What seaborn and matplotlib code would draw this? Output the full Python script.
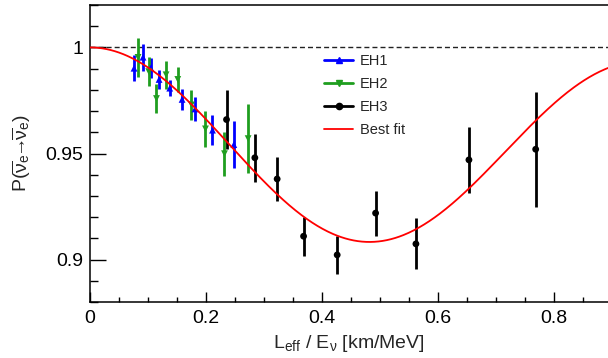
import numpy as np
import pandas as pd
import matplotlib
matplotlib.use("Agg")
import matplotlib.pyplot as plt
import seaborn as sns
from matplotlib.lines import Line2D
from matplotlib.ticker import MultipleLocator, FuncFormatter

# ---------------- data ----------------
eh1_x = [0.0760, 0.0915, 0.1048, 0.1192, 0.1376, 0.1589, 0.1813, 0.2114, 0.2482]
eh1_y = [0.9902, 0.9954, 0.9903, 0.9849, 0.9808, 0.9755, 0.9710, 0.9610, 0.9542]
eh1_err = [0.0061, 0.0063, 0.0048, 0.0046, 0.0038, 0.0051, 0.0056, 0.0070, 0.0112]

eh2_x = [0.0829, 0.1014, 0.1147, 0.1313, 0.1515, 0.1751, 0.1993, 0.2321, 0.2729]
eh2_y = [0.9953, 0.9886, 0.9759, 0.9871, 0.9849, 0.9729, 0.9616, 0.9499, 0.9570]
eh2_err = [0.0092, 0.0069, 0.0070, 0.0065, 0.0059, 0.0072, 0.0084, 0.0103, 0.0163]

eh3_x = [0.2356, 0.2845, 0.3230, 0.3686, 0.4266, 0.4929, 0.5625, 0.6540, 0.7692]
eh3_y = [0.9660, 0.9480, 0.9380, 0.9110, 0.9022, 0.9219, 0.9074, 0.9470, 0.9520]
eh3_err = [0.0138, 0.0113, 0.0105, 0.0093, 0.0090, 0.0106, 0.0120, 0.0157, 0.0270]

halls = ["EH1", "EH2", "EH3"]
legend_labels = ["EH1", "EH2", "EH3", "Best fit"]

# best-fit oscillation parameters
sin2_2theta13 = 0.090
dm2_ee = 2.59e-3      # eV^2
sin2_2theta12 = 0.846
dm2_21 = 7.53e-5      # eV^2

x_max = 0.894
y_min, y_max = 0.88, 1.02

# ---------------- style ----------------
sns.set_style("ticks")
plt.rcParams["font.family"] = ["Liberation Sans", "DejaVu Sans"]
plt.rcParams["mathtext.fontset"] = "custom"
plt.rcParams["mathtext.rm"] = "Liberation Sans"
plt.rcParams["mathtext.it"] = "Liberation Sans"
plt.rcParams["mathtext.bf"] = "Liberation Sans:bold"

colors = {"EH1": "#0000ff", "EH2": "#1f9e1f", "EH3": "#000000"}
markers = {"EH1": "^", "EH2": "v", "EH3": "o"}

fig = plt.figure(figsize=(6.08, 3.58), dpi=100)
ax = fig.add_axes([90 / 608, 56 / 358, 518 / 608, 297 / 358])

# best-fit curve
theta13 = 0.5 * np.arcsin(np.sqrt(sin2_2theta13))
le = np.linspace(0.0, x_max, 500)
p_fit = (1.0
         - np.cos(theta13) ** 4 * sin2_2theta12 * np.sin(1267.0 * dm2_21 * le) ** 2
         - sin2_2theta13 * np.sin(1267.0 * dm2_ee * le) ** 2)
fit_df = pd.DataFrame({"le": le, "p": p_fit})

# unity line
ax.axhline(1.0, color="#222222", lw=1.0, ls=(0, (3.6, 2.2)), zorder=1)

# data frame for points
frames = []
for h, xs, ys, es in [("EH1", eh1_x, eh1_y, eh1_err),
                      ("EH2", eh2_x, eh2_y, eh2_err),
                      ("EH3", eh3_x, eh3_y, eh3_err)]:
    frames.append(pd.DataFrame({"x": xs, "y": ys, "err": es, "hall": h}))
pts = pd.concat(frames, ignore_index=True)

for h in halls:
    d = pts[pts["hall"] == h]
    ax.errorbar(d["x"], d["y"], yerr=d["err"], fmt="none", ecolor=colors[h],
                elinewidth=2.0, capsize=0, zorder=3)

sns.scatterplot(data=pts, x="x", y="y", hue="hall", style="hall",
                palette=colors, markers=markers, s=24, linewidth=0,
                legend=False, ax=ax, zorder=4)

sns.lineplot(data=fit_df, x="le", y="p", color="#ff0000", lw=1.3, ax=ax,
             zorder=5, estimator=None, sort=False)

# axes
ax.set_xlim(0, x_max)
ax.set_ylim(y_min, y_max)
ax.xaxis.set_major_locator(MultipleLocator(0.2))
ax.xaxis.set_minor_locator(MultipleLocator(0.05))
ax.yaxis.set_major_locator(MultipleLocator(0.05))
ax.yaxis.set_minor_locator(MultipleLocator(0.01))
fmt = FuncFormatter(lambda v, p: "%g" % round(v, 4))
ax.xaxis.set_major_formatter(fmt)
ax.yaxis.set_major_formatter(fmt)

ax.tick_params(which="both", direction="in", top=False, right=False,
               colors="black", labelsize=14)
ax.tick_params(axis="y", which="major", length=11.5, width=1.0, pad=5)
ax.tick_params(axis="y", which="minor", length=5.8, width=1.0)
ax.tick_params(axis="x", which="major", length=7.2, width=1.0, pad=6)
ax.tick_params(axis="x", which="minor", length=3.6, width=1.0)

for s in ["left", "bottom", "top"]:
    ax.spines[s].set_linewidth(1.1)
    ax.spines[s].set_color("black")
ax.spines["right"].set_visible(False)

ax.set_xlabel(r"L$_{\mathrm{eff}}$ / E$_{\nu}$ [km/MeV]", fontsize=14, labelpad=4)
ax.set_ylabel(r"P($\overline{\nu}_{e}\!\!\rightarrow\!\!\overline{\nu}_{e}$)",
              fontsize=14, labelpad=9)

handles = [
    Line2D([0], [0], color=colors["EH1"], lw=2.0, marker="^", markersize=4.5),
    Line2D([0], [0], color=colors["EH2"], lw=2.0, marker="v", markersize=4.5),
    Line2D([0], [0], color=colors["EH3"], lw=2.0, marker="o", markersize=4.5),
    Line2D([0], [0], color="#ff0000", lw=1.3),
]
ax.legend(handles, legend_labels, loc="upper left",
          bbox_to_anchor=(324 / 608, 1 - 54 / 358), bbox_transform=fig.transFigure,
          frameon=False, fontsize=10.5, handlelength=2.0, handletextpad=0.45,
          labelspacing=0.62, borderpad=0, borderaxespad=0)

fig.savefig("out.png", dpi=100)
